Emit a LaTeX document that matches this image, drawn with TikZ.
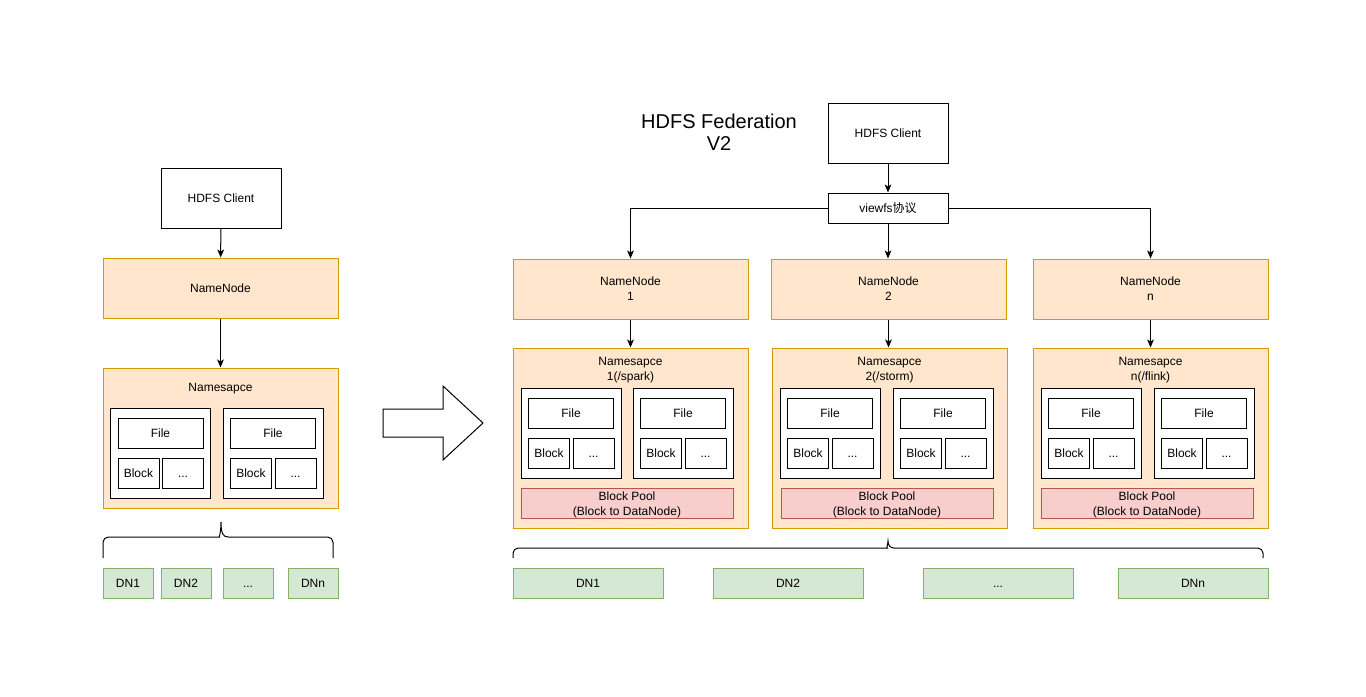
\documentclass[tikz,border=0pt]{standalone}
\usepackage{fontspec}
\setmainfont{Liberation Sans}
\newfontfamily\cjk{Noto Sans CJK SC}
\usetikzlibrary{arrows.meta, positioning}
\definecolor{nsfill}{HTML}{FFE6CC}
\definecolor{nsdraw}{HTML}{D79B00}
\definecolor{dnfill}{HTML}{D5E8D4}
\definecolor{dndraw}{HTML}{82B366}
\definecolor{poolfill}{HTML}{F8CECC}
\definecolor{pooldraw}{HTML}{B85450}

\begin{document}
\begin{tikzpicture}[
			x=0.75pt, y=-0.75pt, line width=0.75pt,
			every node/.style={font=\fontsize{9}{11.25}\selectfont, inner sep=0pt},
			oneline/.style={text height=6.5pt, text depth=0pt},
			client/.style={rectangle, draw=black, fill=white, minimum width=90pt, minimum height=45pt},
			proto/.style={rectangle, draw=black, fill=white, minimum width=90pt, minimum height=22.5pt},
			namenode/.style={rectangle, draw=nsdraw, fill=nsfill, minimum width=176.25pt, minimum height=45pt, align=center},
			namespace/.style={rectangle, draw=nsdraw, fill=nsfill, minimum width=176.25pt},
			grp/.style={rectangle, draw=black, fill=white, minimum width=75pt, minimum height=67.5pt},
			file/.style={rectangle, draw=black, fill=white, minimum width=63.75pt, minimum height=22.5pt, oneline},
			blk/.style={rectangle, draw=black, fill=white, minimum width=30.75pt, minimum height=22.5pt, oneline},
			pool/.style={rectangle, draw=pooldraw, fill=poolfill, minimum width=159pt, minimum height=22.5pt, align=center},
			dn/.style={rectangle, draw=dndraw, fill=dnfill, minimum height=22.5pt, oneline},
			dnsmall/.style={dn, minimum width=37.5pt},
			dnwide/.style={dn, minimum width=112.5pt},
			arrow/.style={-{Stealth[length=6pt, width=5pt, inset=1.5pt]}}
			]
			\fill[white] (0,0) rectangle (1366,696);
			\useasboundingbox (0,0) rectangle (1366,696);
			
			% left: single namenode
			\node[client] (client) at (221,198) {HDFS Client};
			\node[namenode] (nn) at (220.5,288) {NameNode};
			\node[namespace, minimum height=105pt] (ns) at (220.5,438) {};
			\node[oneline] (nslabel) at (220.5,387.5) {Namesapce};
			
			% right: federation
			\node[font=\fontsize{15}{16.5}\selectfont, align=center] (title) at (719,132) {HDFS Federation\\V2};
			\node[client] (fclient) at (888,133) {HDFS Client};
			\node[proto] (viewfs) at (888,208) {viewfs{\cjk 协议}};
			\node[namenode] (nn1) at (630.5,289) {NameNode\\1};
			\node[namenode] (nn2) at (888.5,289) {NameNode\\2};
			\node[namenode] (nn3) at (1150.5,289) {NameNode\\n};
			\node[namespace, minimum height=135pt] (ns1) at (630.5,438) {};
			\node[namespace, minimum height=135pt] (ns2) at (889.5,438) {};
			\node[namespace, minimum height=135pt] (ns3) at (1150.5,438) {};
			\node[align=center] (ns1label) at (630.5,370.5) {Namesapce\\1(/spark)};
			\node[align=center] (ns2label) at (889.5,370.5) {Namesapce\\2(/storm)};
			\node[align=center] (ns3label) at (1150.5,370.5) {Namesapce\\n(/flink)};
			\node[pool] (pool1) at (627,503) {};
			\node[pool] (pool2) at (887,503) {};
			\node[pool] (pool3) at (1147,503) {};
			\node[align=center] (pool1text) at (627,505) {Block Pool\\(Block to DataNode)};
			\node[align=center] (pool2text) at (887,505) {Block Pool\\(Block to DataNode)};
			\node[align=center] (pool3text) at (1147,505) {Block Pool\\(Block to DataNode)};
			
			% file groups inside the namespaces
			\foreach \g/\gx/\gy in {la/160.5/453, lb/273/453, 1a/571/433, 1b/683/433, 2a/830/433, 2b/943/433, 3a/1091/433, 3b/1204/433} {
				\node[grp] (grp-\g) at (\gx,\gy) {};
				\node[file] (file-\g) at ([shift={(0,-20)}]grp-\g.center) {File};
				\node[blk] (blk-\g) at ([shift={(-22,20)}]grp-\g.center) {Block};
				\node[blk] (dots-\g) at ([shift={(22.5,20)}]grp-\g.center) {...};
			}
			
			% datanodes
			\node[dnsmall] (dnl1) at (128,583) {DN1};
			\node[dnsmall] (dnl2) at (186,583) {DN2};
			\node[dnsmall] (dnl3) at (248,583) {...};
			\node[dnsmall] (dnl4) at (313,583) {DNn};
			\node[dnwide] (dnr1) at (588,583) {DN1};
			\node[dnwide] (dnr2) at (788,583) {DN2};
			\node[dnwide] (dnr3) at (998,583) {...};
			\node[dnwide] (dnr4) at (1193,583) {DNn};
			
			\draw[arrow] (client) -- (nn);
			\draw[arrow] (nn) -- (ns);
			\draw[arrow] (fclient) -- (viewfs);
			\draw[arrow] (viewfs.west) -| (nn1.north);
			\draw[arrow] (viewfs) -- (viewfs |- nn2.north);
			\draw[arrow] (viewfs.east) -| (nn3.north);
			\draw[arrow] (nn1) -- (ns1);
			\draw[arrow] (nn2) -- (nn2 |- ns2.north);
			\draw[arrow] (nn3) -- (ns3);
			
			% braces over the datanodes
			\draw[rounded corners=4pt] (103,558) -- (103,537) -- (214,537) [sharp corners] .. controls (219,537) and (221,533) .. (221,522) .. controls (221,533) and (223,537) .. (228,537) [rounded corners=4pt] -- (333,537) -- (333,558);
			\draw[rounded corners=4pt] (513,558) -- (513,548) -- (882,548) [sharp corners] .. controls (886,548) and (888,545) .. (888,541) .. controls (888,545) and (890,548) .. (894,548) [rounded corners=4pt] -- (1263,548) -- (1263,558);
			
			% big arrow between the two layouts
			\draw (383,409) -- (443,409) -- (443,386) -- (483,423) -- (443,460) -- (443,437) -- (383,437) -- cycle;
		\end{tikzpicture}
\end{document}
